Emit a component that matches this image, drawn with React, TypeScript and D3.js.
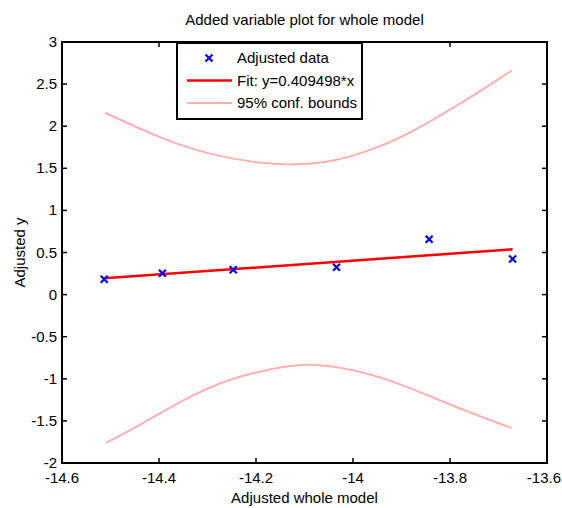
import React, { useRef, useEffect } from 'react';
import * as d3 from 'd3';

// adjusted data points
const dataX = [-14.513, -14.393, -14.247, -14.034, -13.843, -13.671];
const dataY = [0.182, 0.253, 0.296, 0.324, 0.657, 0.423];

// fit line end points (y = 0.409498*x, centred)
const fitX = [-14.513, -13.671];
const fitY = [0.194, 0.538];

// 95% confidence bounds
const upperX = [-14.511, -14.398, -14.295, -14.192, -14.124, -14.041, -13.972, -13.903, -13.835, -13.766, -13.673];
const upperY = [2.16, 1.856, 1.658, 1.559, 1.536, 1.578, 1.697, 1.856, 2.074, 2.311, 2.66];
const lowerX = [-14.509, -14.432, -14.329, -14.226, -14.123, -14.089, -14.006, -13.903, -13.8, -13.673];
const lowerY = [-1.76, -1.529, -1.172, -0.943, -0.836, -0.824, -0.875, -1.053, -1.311, -1.585];

const xTicks = [-14.6, -14.4, -14.2, -14, -13.8, -13.6];
const yTicks = [-2, -1.5, -1, -0.5, 0, 0.5, 1, 1.5, 2, 2.5, 3];

const legendLabels = ['Adjusted data', 'Fit: y=0.409498*x', '95% conf. bounds'];

const W = 562;
const H = 508;

const Chart = () => {
  const ref = useRef<SVGSVGElement>(null);

  useEffect(() => {
    const svg = d3.select(ref.current);
    svg.selectAll('*').remove();
    const margin = { top: 42, right: 15, bottom: 45, left: 62 };
    const font = 'Liberation Sans, Arial, sans-serif';
    const fs = 15;

    const x = d3.scaleLinear().domain([-14.6, -13.6]).range([margin.left, W - margin.right]);
    const y = d3.scaleLinear().domain([-2, 3]).range([H - margin.bottom, margin.top]);

    const line = d3.line<[number, number]>()
      .x(d => x(d[0]))
      .y(d => y(d[1]))
      .curve(d3.curveBasis);

    // conf bounds
    [[upperX, upperY], [lowerX, lowerY]].forEach(([xs, ys]) => {
      svg.append('path')
        .datum(xs.map((v, i) => [v, ys[i]] as [number, number]))
        .attr('fill', 'none')
        .attr('stroke', '#ffb0b0')
        .attr('stroke-width', 2)
        .attr('d', line);
    });

    // fit
    svg.append('path')
      .datum(fitX.map((v, i) => [v, fitY[i]] as [number, number]))
      .attr('fill', 'none')
      .attr('stroke', '#ff0000')
      .attr('stroke-width', 2.5)
      .attr('d', d3.line<[number, number]>().x(d => x(d[0])).y(d => y(d[1])));

    // data markers
    const s = 3.5;
    const marks = svg.append('g').attr('stroke', '#0000ff').attr('stroke-width', 2.2);
    dataX.forEach((v, i) => {
      const cx = x(v), cy = y(dataY[i]);
      marks.append('path').attr('d', `M${cx - s},${cy - s}L${cx + s},${cy + s}M${cx - s},${cy + s}L${cx + s},${cy - s}`);
    });

    // axes with inward ticks on all sides
    const tick = 5;
    const axisG = svg.append('g').attr('stroke', '#000').attr('stroke-width', 1.5);
    xTicks.forEach(t => {
      axisG.append('line').attr('x1', x(t)).attr('x2', x(t)).attr('y1', y(-2)).attr('y2', y(-2) - tick);
      axisG.append('line').attr('x1', x(t)).attr('x2', x(t)).attr('y1', y(3)).attr('y2', y(3) + tick);
    });
    yTicks.forEach(t => {
      axisG.append('line').attr('x1', x(-14.6)).attr('x2', x(-14.6) + tick).attr('y1', y(t)).attr('y2', y(t));
      axisG.append('line').attr('x1', x(-13.6)).attr('x2', x(-13.6) - tick).attr('y1', y(t)).attr('y2', y(t));
    });
    svg.append('rect')
      .attr('x', x(-14.6)).attr('y', y(3))
      .attr('width', x(-13.6) - x(-14.6)).attr('height', y(-2) - y(3))
      .attr('fill', 'none').attr('stroke', '#000').attr('stroke-width', 2);

    const labels = svg.append('g').attr('font-family', font).attr('font-size', fs).attr('fill', '#000');
    xTicks.forEach((t, i) => {
      const last = i === xTicks.length - 1;
      labels.append('text')
        .attr('x', last ? W - 1 : x(t))
        .attr('y', y(-2) + 20)
        .attr('text-anchor', last ? 'end' : 'middle')
        .text(String(t));
    });
    yTicks.forEach(t => {
      labels.append('text').attr('x', x(-14.6) - 5).attr('y', y(t) + 5).attr('text-anchor', 'end').text(String(t));
    });

    labels.append('text').attr('x', (x(-14.6) + x(-13.6)) / 2).attr('y', 25).attr('text-anchor', 'middle')
      .text('Added variable plot for whole model');
    labels.append('text').attr('x', (x(-14.6) + x(-13.6)) / 2).attr('y', 503).attr('text-anchor', 'middle')
      .text('Adjusted whole model');
    labels.append('text')
      .attr('transform', `translate(25,${(y(3) + y(-2)) / 2}) rotate(-90)`)
      .attr('text-anchor', 'middle')
      .text('Adjusted y');

    // legend
    const lg = svg.append('g').attr('transform', 'translate(177,43)');
    lg.append('rect').attr('width', 185).attr('height', 76).attr('fill', '#fff')
      .attr('stroke', '#000').attr('stroke-width', 2);
    legendLabels.forEach((lab, i) => {
      const ry = 15 + i * 22.5;
      if (i === 0) {
        const cx = 32;
        lg.append('path')
          .attr('d', `M${cx - s},${ry - s}L${cx + s},${ry + s}M${cx - s},${ry + s}L${cx + s},${ry - s}`)
          .attr('stroke', '#0000ff').attr('stroke-width', 2.2);
      } else {
        lg.append('line').attr('x1', 10).attr('x2', 55).attr('y1', ry).attr('y2', ry)
          .attr('stroke', i === 1 ? '#ff0000' : '#ffb0b0').attr('stroke-width', i === 1 ? 2.5 : 2);
      }
      lg.append('text').attr('x', 60).attr('y', ry + 5)
        .attr('font-family', font).attr('font-size', fs).text(lab);
    });
  }, []);

  return (
    <svg ref={ref} width={W} height={H}
      style={{ display: 'block', position: 'absolute', left: 0, top: 0 }} />
  );
};

export default function App() {
  return <Chart />;
}
